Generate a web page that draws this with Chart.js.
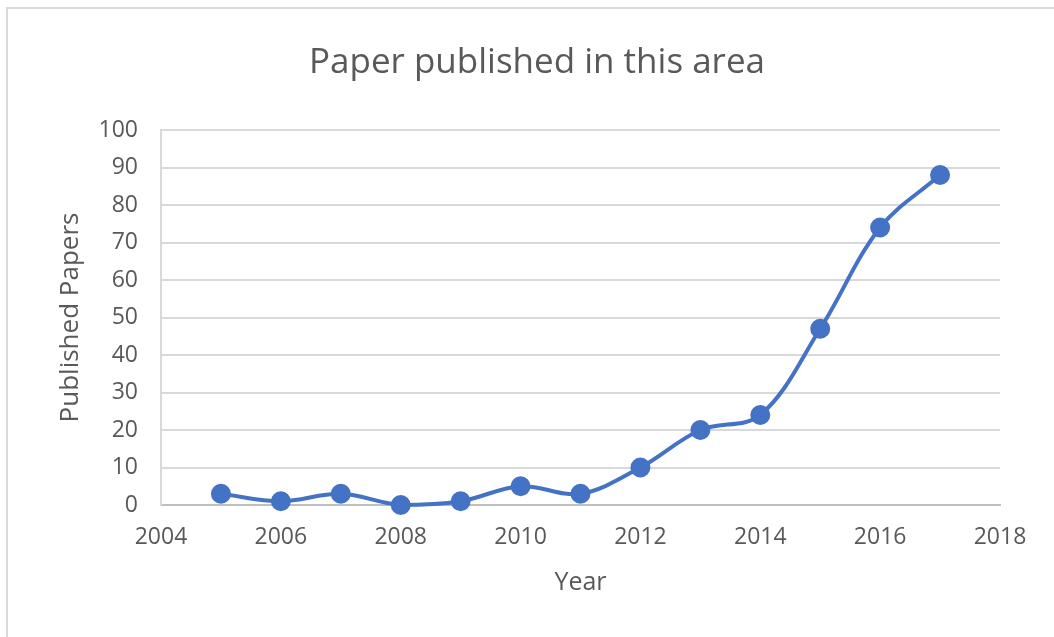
<!DOCTYPE html>
<html>
<head>
<meta charset="utf-8">
<script src="https://cdn.jsdelivr.net/npm/chart.js@4"></script>
<style>
  html, body { margin: 0; padding: 0; background: #fff; }
  #wrap { position: absolute; left: 0; top: 0; width: 1054px; height: 637px; }
  #frame { position: absolute; left: 6px; top: 7px; width: 1060px; height: 640px;
           border-left: 2px solid #d9d9d9; border-top: 2px solid #d9d9d9; }
</style>
</head>
<body>
<div id="wrap">
  <div id="frame"></div>
  <canvas id="papers-chart" width="1054" height="637"></canvas>
</div>
<script>
const years = [2005, 2006, 2007, 2008, 2009, 2010, 2011, 2012, 2013, 2014, 2015, 2016, 2017];
const papers = [3, 1, 3, 0, 1, 5, 3, 10, 20, 24, 47, 74, 88];
const chartTitle = 'Paper published in this area';
const xTitle = 'Year';
const yTitle = 'Published Papers';

const fontFamily = '"Open Sans", sans-serif';
const grey = '#595959';

const ctx = document.getElementById('papers-chart').getContext('2d');
new Chart(ctx, {
    type: 'line',
    data: {
        datasets: [{
            label: yTitle,
            data: years.map((y, i) => ({ x: y, y: papers[i] })),
            borderColor: '#4472C4',
            backgroundColor: '#4472C4',
            borderWidth: 4,
            pointRadius: 8,
            pointHoverRadius: 8,
            tension: 0.35,
            fill: false,
            clip: false
        }]
    },
    options: {
        responsive: false,
        animation: false,
        // left padding keeps the title centred over the whole frame
        layout: { padding: { left: 74, right: 54, top: 0, bottom: 0 } },
        plugins: {
            legend: { display: false },
            tooltip: { enabled: false },
            title: {
                display: true,
                text: chartTitle,
                color: grey,
                font: { family: fontFamily, size: 35, weight: 'normal' },
                padding: { top: 42, bottom: 46 }
            }
        },
        scales: {
            x: {
                type: 'linear',
                min: 2004,
                max: 2018,
                afterFit: s => { s.height = 132; },
                ticks: {
                    stepSize: 2,
                    color: grey,
                    padding: 19,
                    font: { family: fontFamily, size: 23 },
                    callback: v => String(v)
                },
                grid: { display: false, drawTicks: false },
                border: { display: true, color: '#bfbfbf', width: 2 },
                title: {
                    display: true,
                    text: xTitle,
                    color: grey,
                    font: { family: fontFamily, size: 25 },
                    padding: { bottom: 39 }
                }
            },
            y: {
                min: 0,
                max: 100,
                afterFit: s => { s.width = 87; },
                ticks: {
                    stepSize: 10,
                    color: grey,
                    padding: 23,
                    font: { family: fontFamily, size: 23 }
                },
                grid: { color: '#d9d9d9', lineWidth: 2, drawTicks: false },
                border: { display: true, color: '#d9d9d9', width: 2 },
                title: {
                    display: true,
                    text: yTitle,
                    color: grey,
                    font: { family: fontFamily, size: 26 },
                    padding: { top: -19 }
                }
            }
        }
    }
});
</script>
</body>
</html>
